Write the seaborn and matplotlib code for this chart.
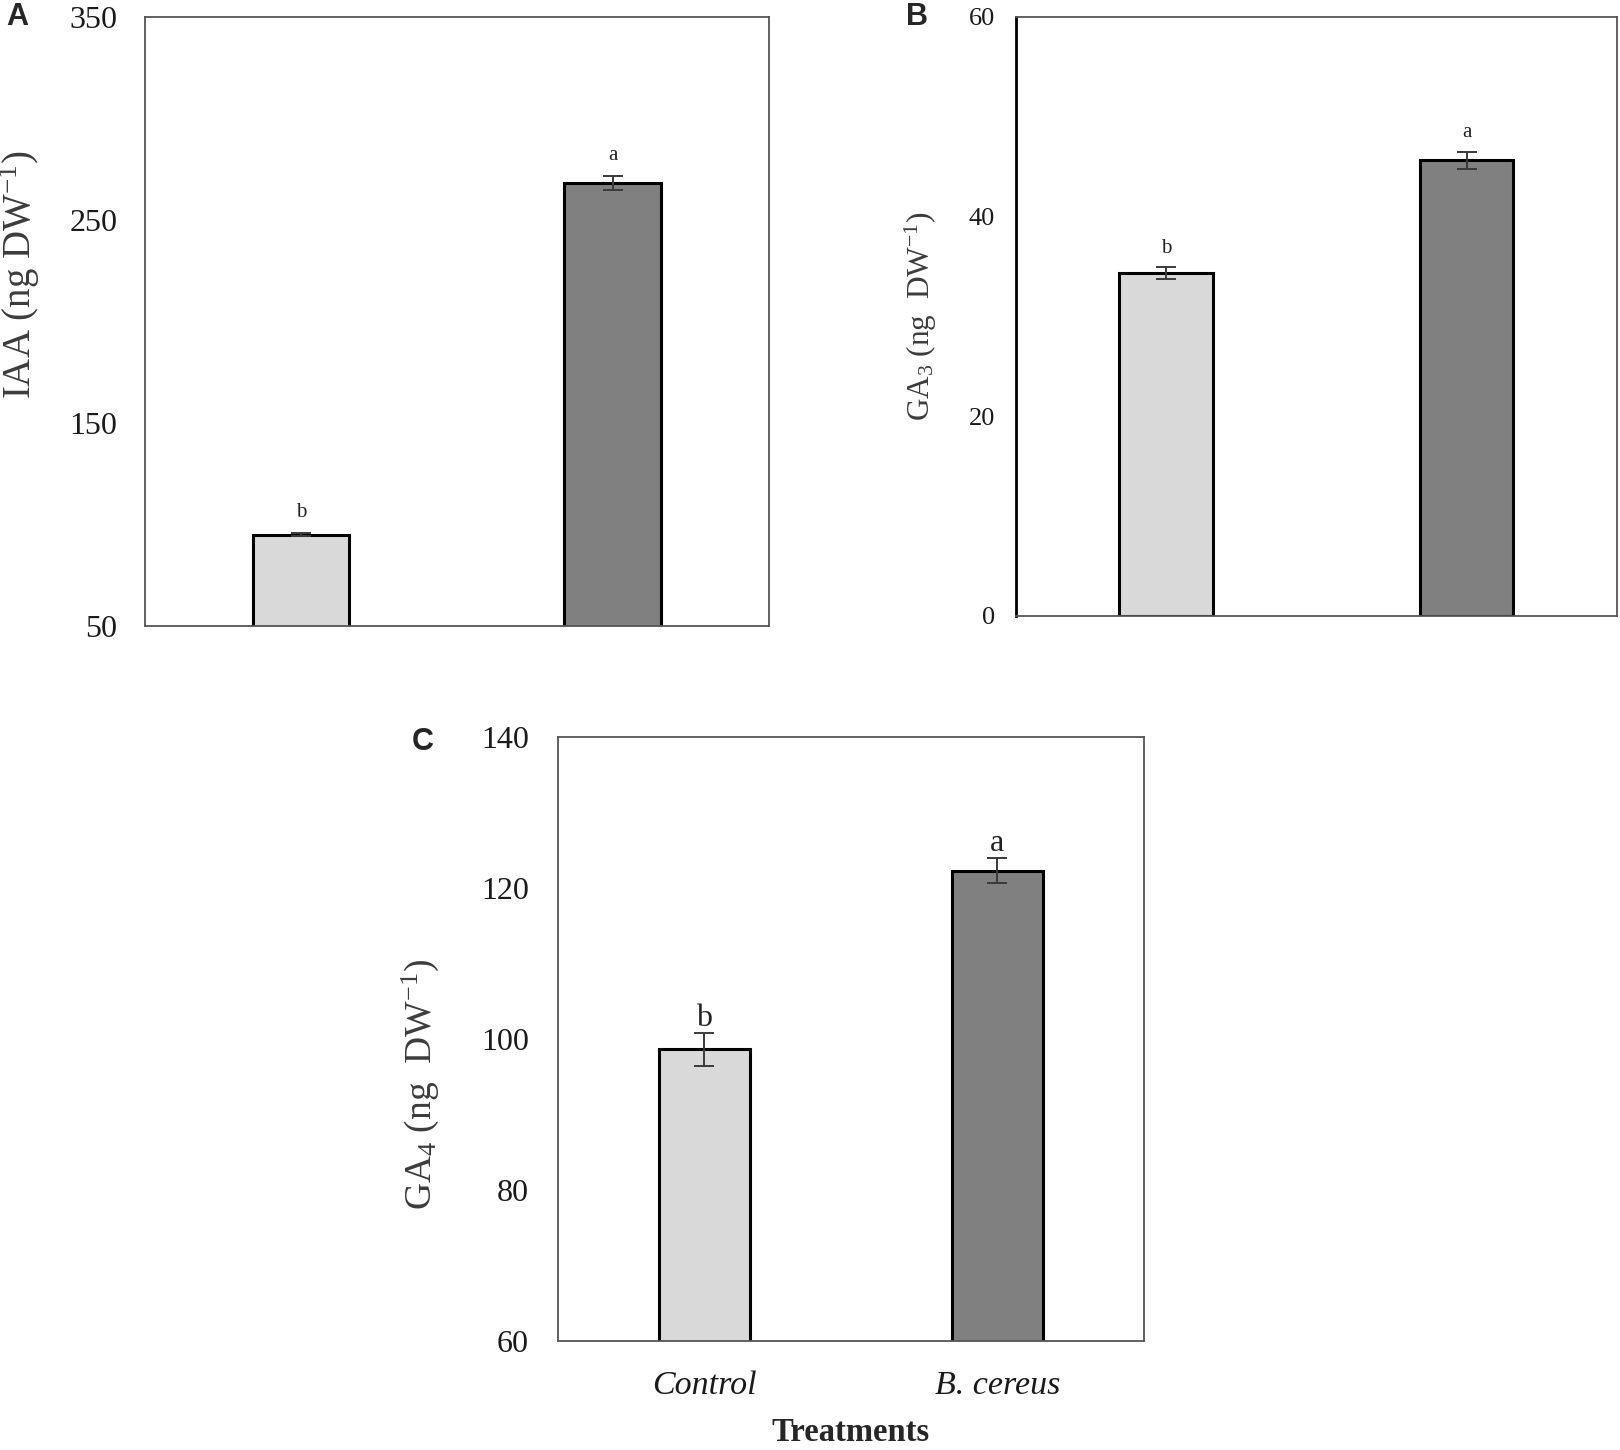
import numpy as np
import pandas as pd
import matplotlib
matplotlib.use("Agg")
import matplotlib.pyplot as plt
import seaborn as sns

# values
treatments = ["Control", "B. cereus"]
letters = ["b", "a"]
iaa = [95.0, 268.0]
iaa_err = [0.6, 3.5]
ga3 = [34.3, 45.6]
ga3_err = [0.6, 0.85]
ga4 = [98.6, 122.3]
ga4_err = [2.2, 1.6]

bar_colors = ["#d9d9d9", "#808080"]

sns.set_style("white")
plt.rcParams['font.family'] = ['Liberation Serif', 'DejaVu Serif']
plt.rcParams['mathtext.fontset'] = 'custom'
plt.rcParams['mathtext.rm'] = 'Liberation Serif'
plt.rcParams['mathtext.it'] = 'Liberation Serif:italic'
plt.rcParams['mathtext.bf'] = 'Liberation Serif:bold'

fig = plt.figure(figsize=(16.2, 14.5), dpi=100)
axA = fig.add_axes([0.0895, 0.5683, 0.385, 0.4203])
axB = fig.add_axes([0.627, 0.5752, 0.371, 0.4134])
axC = fig.add_axes([0.3444, 0.0752, 0.3617, 0.4166])


def draw_panel(ax, vals, errs, ylim, yticks, ylabel, tick_size, label_size,
               letter_size, letter_off, tick_pad):
    df = pd.DataFrame({"treat": treatments, "val": vals})
    sns.barplot(data=df, x="treat", y="val", hue="treat", palette=bar_colors,
                legend=False, width=0.31, edgecolor="black", linewidth=2.2,
                errorbar=None, ax=ax)
    ax.errorbar(range(len(vals)), vals, yerr=errs, fmt="none",
                ecolor="#3a3a3a", elinewidth=1.4, capsize=7, capthick=1.4)
    for i, (v, e) in enumerate(zip(vals, errs)):
        ax.annotate(letters[i], (i, v + e), xytext=(0, letter_off),
                    textcoords="offset points", ha="center", va="bottom",
                    fontsize=letter_size, color="#222222")
    ax.set_xlim(-0.5, 1.5)
    ax.set_ylim(*ylim)
    ax.set_yticks(yticks)
    ax.tick_params(axis="y", length=0, pad=tick_pad, labelsize=tick_size,
                   labelcolor="#1a1a1a")
    ax.tick_params(axis="x", length=0)
    ax.set_ylabel(ylabel, fontsize=label_size, color="#3c3c3c")
    ax.set_xlabel("")
    for s in ax.spines.values():
        s.set_color("#555555")
        s.set_linewidth(1.3)


draw_panel(axA, iaa, iaa_err, (50, 350), [50, 150, 250, 350],
           "IAA (ng DW$^{\\mathrm{-1}}$)", 23, 28, 15, 8, 20)
axA.set_xticklabels([])
axA.yaxis.set_label_coords(-0.165, 0.577)

draw_panel(axB, ga3, ga3_err, (0, 60), [0, 20, 40, 60],
           "GA$_3$ (ng  DW$^{\\mathrm{-1}}$)", 19, 22.5, 15, 7, 15)
axB.set_xticklabels([])
axB.yaxis.set_label_coords(-0.127, 0.5)
axB.spines["left"].set_color("black")
axB.spines["left"].set_linewidth(2)

draw_panel(axC, ga4, ga4_err, (60, 140), [60, 80, 100, 120, 140],
           "GA$_4$ (ng  DW$^{\\mathrm{-1}}$)", 23, 27, 23, 0, 21)
axC.set_xticklabels(treatments, fontsize=24.5, style="italic", color="#1a1a1a")
axC.tick_params(axis="x", pad=21)
axC.set_xlabel("Treatments", fontsize=23.5, fontweight="bold", labelpad=12)
axC.yaxis.set_label_coords(-0.2, 0.424)

# panel letters
fig.text(0.004, 0.988, "A", fontsize=22, fontweight="bold",
         family="Liberation Sans", va="center", ha="left")
fig.text(0.559, 0.988, "B", fontsize=22, fontweight="bold",
         family="Liberation Sans", va="center", ha="left")
fig.text(0.254, 0.488, "C", fontsize=22, fontweight="bold",
         family="Liberation Sans", va="center", ha="left")

fig.savefig("out.png", dpi=100, facecolor="white")
